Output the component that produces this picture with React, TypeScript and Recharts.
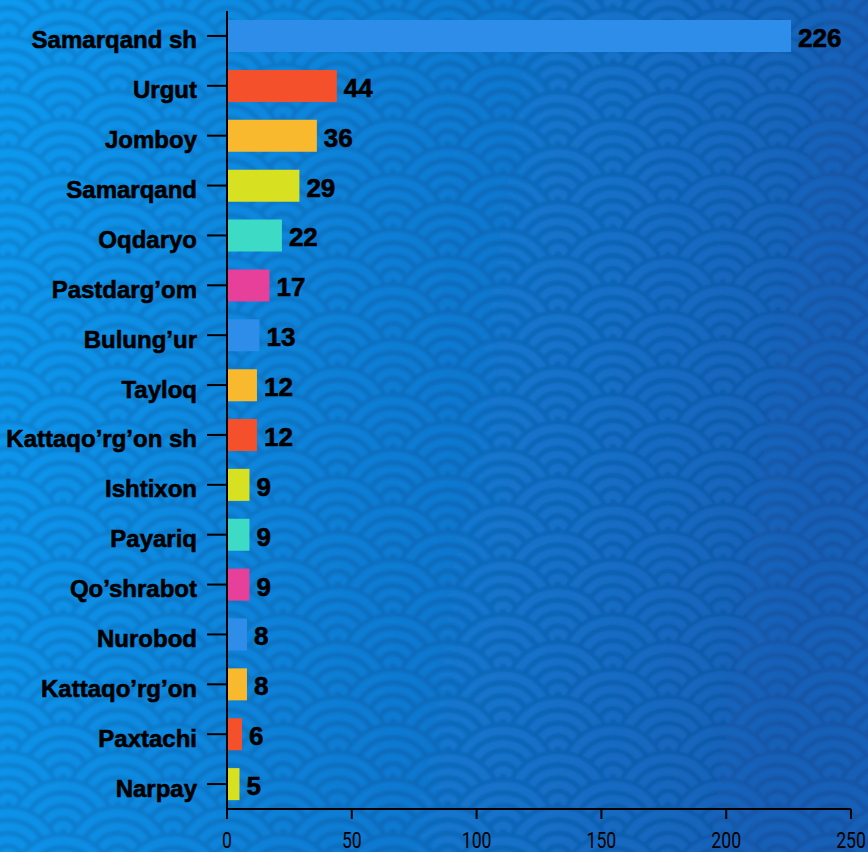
import { useMemo } from "react";
import { Bar, BarChart, Cell, LabelList, XAxis, YAxis } from "recharts";

const districts = [
  "Samarqand sh",
  "Urgut",
  "Jomboy",
  "Samarqand",
  "Oqdaryo",
  "Pastdarg’om",
  "Bulung’ur",
  "Tayloq",
  "Kattaqo’rg’on sh",
  "Ishtixon",
  "Payariq",
  "Qo’shrabot",
  "Nurobod",
  "Kattaqo’rg’on",
  "Paxtachi",
  "Narpay",
];
const counts = [226, 44, 36, 29, 22, 17, 13, 12, 12, 9, 9, 9, 8, 8, 6, 5];
const xTicks = [0, 50, 100, 150, 200, 250];

const BLUE = "#2e8de8";
const RED = "#f4502b";
const ORANGE = "#f8b92e";
const YELLOW = "#d8e022";
const TEAL = "#3ddbc6";
const PINK = "#e6409b";
const barColors = [
  BLUE, RED, ORANGE, YELLOW, TEAL, PINK,
  BLUE, ORANGE, RED, YELLOW, TEAL, PINK,
  BLUE, ORANGE, RED, YELLOW,
];

const W = 868;
const H = 852;

const data = districts.map((name, i) => ({ name, value: counts[i] }));

// seigaiha wave background
const WavesBg = () => {
  const R = 55;
  const scales = useMemo(() => {
    const out: { cx: number; cy: number; key: string }[] = [];
    for (let j = -2; j < 36; j++) {
      const off = j % 2 === 0 ? 0 : R;
      for (let k = -1; k < 10; k++) {
        out.push({ cx: 8 + off + k * 2 * R, cy: 35 + j * (R / 2), key: j + "_" + k });
      }
    }
    return out;
  }, []);
  const ring = "rgba(0, 25, 70, 0.15)";
  return (
    <svg width={W} height={H} style={{ position: "absolute", left: 0, top: 0 }}>
      <defs>
        <linearGradient id="bgGrad" gradientUnits="userSpaceOnUse" x1={0} y1={0} x2={W} y2={120}>
          <stop offset="0%" stopColor="#0a9af0" />
          <stop offset="100%" stopColor="#1660b8" />
        </linearGradient>
        <filter id="soft" x="0" y="0" width="100%" height="100%">
          <feGaussianBlur stdDeviation="1.4" />
        </filter>
      </defs>
      <rect width={W} height={H} fill="url(#bgGrad)" />
      <g filter="url(#soft)">
        {scales.map((s) => (
          <g key={s.key}>
            <circle cx={s.cx} cy={s.cy} r={R} fill="url(#bgGrad)" />
            <circle cx={s.cx} cy={s.cy} r={R - 2} fill="none" stroke={ring} strokeWidth={4} />
            <circle cx={s.cx} cy={s.cy} r={40} fill="none" stroke={ring} strokeWidth={5} />
            <circle cx={s.cx} cy={s.cy} r={27} fill="none" stroke={ring} strokeWidth={5} />
            <circle cx={s.cx} cy={s.cy} r={14} fill="none" stroke={ring} strokeWidth={5} />
            <circle cx={s.cx} cy={s.cy} r={3.5} fill={ring} />
          </g>
        ))}
      </g>
    </svg>
  );
};

const DistrictTick = ({ x, y, payload }: any) => (
  <text
    x={x}
    y={y}
    dy="0.52em"
    textAnchor="end"
    fill="#000"
    stroke="#000"
    strokeWidth={0.6}
    fontFamily="'Liberation Sans', Arial, sans-serif"
    fontWeight="bold"
    fontSize={24}
  >
    {payload.value}
  </text>
);

// condensed look for the value axis numbers
const CountTick = ({ x, y, payload }: any) => (
  <text
    transform={`translate(${x},${y}) scale(0.8,1)`}
    dy="0.68em"
    textAnchor="middle"
    fill="#000"
    fontFamily="Roboto, sans-serif"
    fontSize={22}
  >
    {payload.value}
  </text>
);

const ValueLabel = ({ x, y, width, height, value }: any) => (
  <text
    x={x + width + 7}
    y={y + height / 2}
    dy="0.42em"
    fill="#000"
    stroke="#000"
    strokeWidth={0.6}
    fontFamily="'Liberation Sans', Arial, sans-serif"
    fontWeight="bold"
    fontSize={26}
  >
    {value}
  </text>
);

export default function App() {
  return (
    <div
      style={{
        position: "absolute",
        left: 0,
        top: 0,
        width: W,
        height: H,
        overflow: "hidden",
      }}
    >
      <WavesBg />
      <div style={{ position: "absolute", left: 0, top: 0 }}>
        <BarChart
          width={W}
          height={H}
          data={data}
          layout="vertical"
          margin={{ top: 11, right: 17, bottom: 0, left: 0 }}
        >
          <XAxis
            type="number"
            domain={[0, 250]}
            ticks={xTicks}
            height={43}
            axisLine={{ stroke: "#000", strokeWidth: 2 }}
            tickLine={{ stroke: "#000", strokeWidth: 2 }}
            tickSize={10}
            tickMargin={14}
            tick={<CountTick />}
          />
          <YAxis
            type="category"
            dataKey="name"
            width={227}
            interval={0}
            axisLine={{ stroke: "#000", strokeWidth: 2 }}
            tickLine={{ stroke: "#000", strokeWidth: 2 }}
            tickSize={20}
            tickMargin={10}
            tick={<DistrictTick />}
          />
          <Bar dataKey="value" barSize={32} isAnimationActive={false}>
            {data.map((d, i) => (
              <Cell key={d.name} fill={barColors[i]} />
            ))}
            <LabelList dataKey="value" content={<ValueLabel />} />
          </Bar>
        </BarChart>
      </div>
    </div>
  );
}
